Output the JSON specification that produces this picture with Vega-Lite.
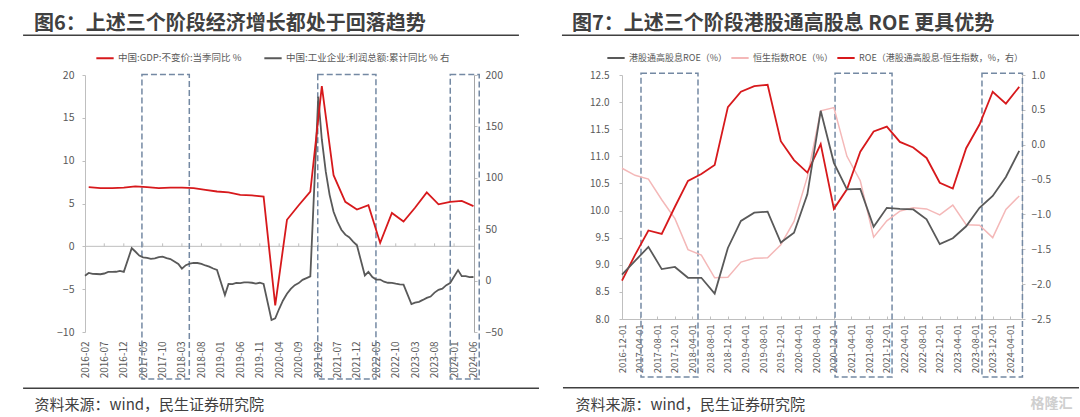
{
  "$schema": "https://vega.github.io/schema/vega-lite/v6.json",
  "background": "white",
  "padding": {"left": 22, "top": 13, "right": 0, "bottom": 0},
  "spacing": 21,
  "config": {
    "view": {"stroke": null},
    "font": "Noto Sans CJK SC",
    "axis": {"labelColor": "#595959", "labelFont": "Noto Sans CJK SC", "domainColor": "#bfbfbf", "tickColor": "#bfbfbf", "grid": false, "titleFontWeight": "normal", "labelFlush": false, "labelOverlap": false},
    "legend": {"labelFont": "Noto Sans CJK SC", "labelLimit": 400},
    "title": {"font": "Noto Sans CJK SC"}
  },
  "resolve": {"scale": {"color": "independent", "x": "independent", "y": "independent"}},
  "datasets": {
    "gdp": [
      {"d": "2016/03/01", "v": 6.9}, {"d": "2016/06/01", "v": 6.8}, {"d": "2016/09/01", "v": 6.8}, {"d": "2016/12/01", "v": 6.85},
      {"d": "2017/03/01", "v": 7.0}, {"d": "2017/06/01", "v": 6.9}, {"d": "2017/09/01", "v": 6.8}, {"d": "2017/12/01", "v": 6.85},
      {"d": "2018/03/01", "v": 6.85}, {"d": "2018/06/01", "v": 6.8}, {"d": "2018/09/01", "v": 6.6}, {"d": "2018/12/01", "v": 6.4},
      {"d": "2019/03/01", "v": 6.3}, {"d": "2019/06/01", "v": 6.0}, {"d": "2019/09/01", "v": 5.95}, {"d": "2019/12/01", "v": 5.8},
      {"d": "2020/03/01", "v": -6.9}, {"d": "2020/06/01", "v": 3.1}, {"d": "2020/09/01", "v": 4.8}, {"d": "2020/12/01", "v": 6.4},
      {"d": "2021/03/01", "v": 18.7}, {"d": "2021/06/01", "v": 8.3}, {"d": "2021/09/01", "v": 5.2}, {"d": "2021/12/01", "v": 4.3},
      {"d": "2022/03/01", "v": 4.8}, {"d": "2022/06/01", "v": 0.4}, {"d": "2022/09/01", "v": 3.9}, {"d": "2022/12/01", "v": 2.9},
      {"d": "2023/03/01", "v": 4.5}, {"d": "2023/06/01", "v": 6.3}, {"d": "2023/09/01", "v": 4.9}, {"d": "2023/12/01", "v": 5.2},
      {"d": "2024/03/01", "v": 5.3}, {"d": "2024/06/01", "v": 4.7}
    ],
    "profit": [
      {"d": "2016/02/01", "v": 4.8}, {"d": "2016/03/01", "v": 7.4}, {"d": "2016/04/01", "v": 6.5}, {"d": "2016/05/01", "v": 6.4}, {"d": "2016/06/01", "v": 6.2}, {"d": "2016/07/01", "v": 6.9}, {"d": "2016/08/01", "v": 8.4}, {"d": "2016/09/01", "v": 8.4}, {"d": "2016/10/01", "v": 8.6}, {"d": "2016/11/01", "v": 9.4}, {"d": "2016/12/01", "v": 8.5},
      {"d": "2017/02/01", "v": 31.5}, {"d": "2017/03/01", "v": 28.3}, {"d": "2017/04/01", "v": 24.4}, {"d": "2017/05/01", "v": 22.7}, {"d": "2017/06/01", "v": 22.0}, {"d": "2017/07/01", "v": 21.1}, {"d": "2017/08/01", "v": 21.6}, {"d": "2017/09/01", "v": 22.8}, {"d": "2017/10/01", "v": 23.3}, {"d": "2017/11/01", "v": 21.9}, {"d": "2017/12/01", "v": 21.0},
      {"d": "2018/02/01", "v": 16.1}, {"d": "2018/03/01", "v": 11.6}, {"d": "2018/04/01", "v": 15.0}, {"d": "2018/05/01", "v": 16.5}, {"d": "2018/06/01", "v": 17.2}, {"d": "2018/07/01", "v": 17.1}, {"d": "2018/08/01", "v": 16.2}, {"d": "2018/09/01", "v": 14.7}, {"d": "2018/10/01", "v": 13.6}, {"d": "2018/11/01", "v": 11.8}, {"d": "2018/12/01", "v": 10.3},
      {"d": "2019/02/01", "v": -14.0}, {"d": "2019/03/01", "v": -3.3}, {"d": "2019/04/01", "v": -3.4}, {"d": "2019/05/01", "v": -2.3}, {"d": "2019/06/01", "v": -2.4}, {"d": "2019/07/01", "v": -1.7}, {"d": "2019/08/01", "v": -1.7}, {"d": "2019/09/01", "v": -2.1}, {"d": "2019/10/01", "v": -2.9}, {"d": "2019/11/01", "v": -2.1}, {"d": "2019/12/01", "v": -3.3},
      {"d": "2020/02/01", "v": -38.3}, {"d": "2020/03/01", "v": -36.7}, {"d": "2020/04/01", "v": -27.4}, {"d": "2020/05/01", "v": -19.3}, {"d": "2020/06/01", "v": -12.8}, {"d": "2020/07/01", "v": -8.1}, {"d": "2020/08/01", "v": -4.4}, {"d": "2020/09/01", "v": -2.4}, {"d": "2020/10/01", "v": 0.7}, {"d": "2020/11/01", "v": 2.4}, {"d": "2020/12/01", "v": 4.1},
      {"d": "2021/02/01", "v": 178.9}, {"d": "2021/03/01", "v": 137.3}, {"d": "2021/04/01", "v": 106.0}, {"d": "2021/05/01", "v": 83.4}, {"d": "2021/06/01", "v": 66.9}, {"d": "2021/07/01", "v": 57.3}, {"d": "2021/08/01", "v": 49.5}, {"d": "2021/09/01", "v": 44.7}, {"d": "2021/10/01", "v": 42.2}, {"d": "2021/11/01", "v": 38.0}, {"d": "2021/12/01", "v": 34.3},
      {"d": "2022/02/01", "v": 5.0}, {"d": "2022/03/01", "v": 8.5}, {"d": "2022/04/01", "v": 3.5}, {"d": "2022/05/01", "v": 1.0}, {"d": "2022/06/01", "v": 1.0}, {"d": "2022/07/01", "v": -1.1}, {"d": "2022/08/01", "v": -2.1}, {"d": "2022/09/01", "v": -2.3}, {"d": "2022/10/01", "v": -3.0}, {"d": "2022/11/01", "v": -3.6}, {"d": "2022/12/01", "v": -4.0},
      {"d": "2023/02/01", "v": -22.9}, {"d": "2023/03/01", "v": -21.4}, {"d": "2023/04/01", "v": -20.6}, {"d": "2023/05/01", "v": -18.8}, {"d": "2023/06/01", "v": -16.8}, {"d": "2023/07/01", "v": -15.5}, {"d": "2023/08/01", "v": -11.7}, {"d": "2023/09/01", "v": -9.0}, {"d": "2023/10/01", "v": -7.8}, {"d": "2023/11/01", "v": -4.4}, {"d": "2023/12/01", "v": -2.3},
      {"d": "2024/02/01", "v": 10.2}, {"d": "2024/03/01", "v": 4.3}, {"d": "2024/04/01", "v": 4.3}, {"d": "2024/05/01", "v": 3.4}, {"d": "2024/06/01", "v": 3.5}
    ],
    "ticksL": [
      {"d": "2016/07/01"}, {"d": "2016/12/01"}, {"d": "2017/05/01"}, {"d": "2017/10/01"}, {"d": "2018/03/01"}, {"d": "2018/08/01"}, {"d": "2019/01/01"}, {"d": "2019/06/01"}, {"d": "2019/11/01"}, {"d": "2020/04/01"}, {"d": "2020/09/01"}, {"d": "2021/02/01"}, {"d": "2021/07/01"}, {"d": "2021/12/01"}, {"d": "2022/05/01"}, {"d": "2022/10/01"}, {"d": "2023/03/01"}, {"d": "2023/08/01"}, {"d": "2024/01/01"}
    ],
    "rectL": [
      {"s": "2017/04/22", "e": "2018/04/28"},
      {"s": "2021/01/28", "e": "2022/04/29"},
      {"s": "2023/12/02", "e": "2024/07/16"}
    ],
    "rectR": [
      {"s": "2017/04/11", "e": "2018/05/09"},
      {"s": "2020/12/09", "e": "2022/01/06"},
      {"s": "2023/09/18", "e": "2024/06/23"}
    ],
    "hk": [
      {"d": "2016/12/01", "hd": 8.82, "hsi": 10.78, "diff": -1.95},
      {"d": "2017/03/01", "hd": 9.07, "hsi": 10.65, "diff": -1.58},
      {"d": "2017/06/01", "hd": 9.33, "hsi": 10.58, "diff": -1.23},
      {"d": "2017/09/01", "hd": 8.92, "hsi": 10.2, "diff": -1.28},
      {"d": "2017/12/01", "hd": 8.96, "hsi": 9.85, "diff": -0.89},
      {"d": "2018/03/01", "hd": 8.76, "hsi": 9.28, "diff": -0.52},
      {"d": "2018/06/01", "hd": 8.76, "hsi": 9.18, "diff": -0.42},
      {"d": "2018/09/01", "hd": 8.47, "hsi": 8.76, "diff": -0.29},
      {"d": "2018/12/01", "hd": 9.31, "hsi": 8.77, "diff": 0.54},
      {"d": "2019/03/01", "hd": 9.81, "hsi": 9.05, "diff": 0.76},
      {"d": "2019/06/01", "hd": 9.96, "hsi": 9.12, "diff": 0.84},
      {"d": "2019/09/01", "hd": 9.98, "hsi": 9.13, "diff": 0.86},
      {"d": "2019/12/01", "hd": 9.41, "hsi": 9.37, "diff": 0.05},
      {"d": "2020/03/01", "hd": 9.59, "hsi": 9.8, "diff": -0.22},
      {"d": "2020/06/01", "hd": 10.3, "hsi": 10.62, "diff": -0.4},
      {"d": "2020/09/01", "hd": 11.84, "hsi": 11.84, "diff": 0.01},
      {"d": "2020/12/01", "hd": 10.88, "hsi": 11.9, "diff": -0.92},
      {"d": "2021/03/01", "hd": 10.39, "hsi": 11.0, "diff": -0.64},
      {"d": "2021/06/01", "hd": 10.4, "hsi": 10.55, "diff": -0.1},
      {"d": "2021/09/01", "hd": 9.7, "hsi": 9.51, "diff": 0.19},
      {"d": "2021/12/01", "hd": 10.05, "hsi": 9.81, "diff": 0.26},
      {"d": "2022/03/01", "hd": 10.03, "hsi": 9.99, "diff": 0.04},
      {"d": "2022/06/01", "hd": 10.02, "hsi": 10.05, "diff": -0.04},
      {"d": "2022/09/01", "hd": 9.84, "hsi": 10.03, "diff": -0.19},
      {"d": "2022/12/01", "hd": 9.38, "hsi": 9.92, "diff": -0.545},
      {"d": "2023/03/01", "hd": 9.49, "hsi": 10.1, "diff": -0.63},
      {"d": "2023/06/01", "hd": 9.71, "hsi": 9.74, "diff": -0.05},
      {"d": "2023/09/01", "hd": 10.05, "hsi": 9.73, "diff": 0.29},
      {"d": "2023/12/01", "hd": 10.27, "hsi": 9.5, "diff": 0.76},
      {"d": "2024/03/01", "hd": 10.62, "hsi": 10.02, "diff": 0.59},
      {"d": "2024/06/01", "hd": 11.1, "hsi": 10.27, "diff": 0.83}
    ]
  },
  "hconcat": [
    {
      "width": 389,
      "height": 257,
      "title": {"text": "图6：上述三个阶段经济增长都处于回落趋势", "anchor": "start", "frame": "group", "dx": -51, "offset": 1, "fontSize": 20, "fontWeight": "bold", "color": "#404040"},
      "resolve": {"scale": {"x": "independent", "y": "independent"}, "axis": {"x": "independent", "y": "independent"}},
      "layer": [
        {
          "data": {"values": [{}]},
          "mark": {"type": "rule", "color": "#bfbfbf", "strokeWidth": 1},
          "encoding": {"y": {"datum": 0, "type": "quantitative", "scale": {"domain": [-10, 20], "nice": false, "zero": false}, "axis": null}}
        },
        {
          "data": {"name": "ticksL"},
          "mark": {"type": "rule", "color": "#bfbfbf", "strokeWidth": 1},
          "encoding": {
            "x": {"field": "d", "type": "temporal", "scale": {"domain": [{"year": 2016, "month": 2, "date": 1}, {"year": 2024, "month": 6, "date": 5}]}, "axis": null},
            "y": {"datum": 0, "type": "quantitative", "scale": {"domain": [-10, 20], "nice": false, "zero": false}, "axis": null},
            "y2": {"datum": 0.35}
          }
        },
        {
          "data": {"name": "rectL"},
          "mark": {"type": "rect", "fill": "transparent", "stroke": "#7489a3", "strokeWidth": 1.5, "strokeDash": [6, 3]},
          "encoding": {
            "x": {"field": "s", "type": "temporal", "scale": {"domain": [{"year": 2016, "month": 2, "date": 1}, {"year": 2024, "month": 6, "date": 5}]}, "axis": null},
            "x2": {"field": "e"},
            "y": {"datum": 20.06, "type": "quantitative", "scale": {"domain": [-10, 20], "nice": false, "zero": false}, "axis": null},
            "y2": {"datum": -15.5}
          }
        },
        {
          "data": {"values": [{}]},
          "mark": {"type": "rule", "color": "#404040", "strokeWidth": 1.5},
          "encoding": {
            "x": {"datum": {"year": 2014, "month": 10, "date": 4}, "type": "temporal", "scale": {"domain": [{"year": 2016, "month": 2, "date": 1}, {"year": 2024, "month": 6, "date": 5}]}, "axis": null},
            "x2": {"datum": {"year": 2025, "month": 5, "date": 23}},
            "y": {"datum": 24.64, "type": "quantitative", "scale": {"domain": [-10, 20], "nice": false, "zero": false}, "axis": null}
          }
        },
        {
          "data": {"values": [{}]},
          "mark": {"type": "rule", "color": "#404040", "strokeWidth": 1.5},
          "encoding": {
            "x": {"datum": {"year": 2014, "month": 10, "date": 4}, "type": "temporal", "scale": {"domain": [{"year": 2016, "month": 2, "date": 1}, {"year": 2024, "month": 6, "date": 5}]}, "axis": null},
            "x2": {"datum": {"year": 2025, "month": 10, "date": 27}},
            "y": {"datum": -16.57, "type": "quantitative", "scale": {"domain": [-10, 20], "nice": false, "zero": false}, "axis": null}
          }
        },
        {
          "data": {"name": "profit"},
          "mark": {"type": "line", "strokeWidth": 1.8},
          "encoding": {
            "x": {"field": "d", "type": "temporal", "scale": {"domain": [{"year": 2016, "month": 2, "date": 1}, {"year": 2024, "month": 6, "date": 5}]}, "axis": null},
            "y": {
              "field": "v", "type": "quantitative",
              "scale": {"domain": [-50, 200], "nice": false, "zero": false},
              "axis": {"orient": "right", "values": [-50, 0, 50, 100, 150, 200], "tickSize": 3, "labelPadding": 8, "labelFontSize": 10.5, "domainColor": "#a6a6a6", "title": null}
            },
            "color": {"datum": "中国:工业企业:利润总额:累计同比 % 右", "type": "nominal"}
          }
        },
        {
          "data": {"name": "gdp"},
          "mark": {"type": "line", "strokeWidth": 1.8},
          "encoding": {
            "x": {
              "field": "d", "type": "temporal",
              "scale": {"domain": [{"year": 2016, "month": 2, "date": 1}, {"year": 2024, "month": 6, "date": 5}]},
              "axis": {
                "orient": "bottom",
                "values": [
                  {"year": 2016, "month": 2, "date": 1}, {"year": 2016, "month": 7, "date": 1}, {"year": 2016, "month": 12, "date": 1},
                  {"year": 2017, "month": 5, "date": 1}, {"year": 2017, "month": 10, "date": 1}, {"year": 2018, "month": 3, "date": 1},
                  {"year": 2018, "month": 8, "date": 1}, {"year": 2019, "month": 1, "date": 1}, {"year": 2019, "month": 6, "date": 1},
                  {"year": 2019, "month": 11, "date": 1}, {"year": 2020, "month": 4, "date": 1}, {"year": 2020, "month": 9, "date": 1},
                  {"year": 2021, "month": 2, "date": 1}, {"year": 2021, "month": 7, "date": 1}, {"year": 2021, "month": 12, "date": 1},
                  {"year": 2022, "month": 5, "date": 1}, {"year": 2022, "month": 10, "date": 1}, {"year": 2023, "month": 3, "date": 1},
                  {"year": 2023, "month": 8, "date": 1}, {"year": 2024, "month": 1, "date": 1}, {"year": 2024, "month": 6, "date": 1}
                ],
                "format": "%Y-%m", "labelAngle": -90, "labelFontSize": 10, "labelPadding": 9,
                "ticks": false, "domain": false,
                "title": "资料来源：wind，民生证券研究院", "titleFontSize": 15, "titleColor": "#404040",
                "titleX": -51, "titleY": 72, "titleAlign": "left", "titleBaseline": "middle", "titleAngle": 0
              }
            },
            "y": {
              "field": "v", "type": "quantitative",
              "scale": {"domain": [-10, 20], "nice": false, "zero": false},
              "axis": {"orient": "left", "values": [-10, -5, 0, 5, 10, 15, 20], "tickSize": 3, "labelPadding": 8, "labelFontSize": 10.5, "title": null}
            },
            "color": {
              "datum": "中国:GDP:不变价:当季同比 %", "type": "nominal",
              "scale": {"domain": ["中国:GDP:不变价:当季同比 %", "中国:工业企业:利润总额:累计同比 % 右"], "range": ["#d7191c", "#595959"]},
              "legend": {"orient": "none", "legendX": 10, "legendY": -27, "direction": "horizontal", "title": null, "symbolType": "stroke", "symbolStrokeWidth": 2, "symbolSize": 300, "labelFontSize": 9.5, "labelColor": "#595959", "columnPadding": 18, "labelOffset": 3}
            }
          }
        }
      ]
    },
    {
      "width": 400,
      "height": 244,
      "title": {"text": "图7：上述三个阶段港股通高股息 ROE 更具优势", "anchor": "start", "frame": "group", "dx": -50, "offset": 1, "fontSize": 20, "fontWeight": "bold", "color": "#404040"},
      "resolve": {"scale": {"x": "independent", "y": "independent"}, "axis": {"x": "independent", "y": "independent"}},
      "layer": [
        {
          "data": {"name": "rectR"},
          "mark": {"type": "rect", "fill": "transparent", "stroke": "#7489a3", "strokeWidth": 1.5, "strokeDash": [6, 3]},
          "encoding": {
            "x": {"field": "s", "type": "temporal", "scale": {"domain": [{"year": 2016, "month": 12, "date": 1}, {"year": 2024, "month": 6, "date": 20}]}, "axis": null},
            "x2": {"field": "e"},
            "y": {"datum": 12.53, "type": "quantitative", "scale": {"domain": [8, 12.5], "nice": false, "zero": false}, "axis": null},
            "y2": {"datum": 6.93}
          }
        },
        {
          "data": {"values": [{}]},
          "mark": {"type": "rule", "color": "#404040", "strokeWidth": 1.5},
          "encoding": {
            "x": {"datum": {"year": 2015, "month": 10, "date": 14}, "type": "temporal", "scale": {"domain": [{"year": 2016, "month": 12, "date": 1}, {"year": 2024, "month": 6, "date": 20}]}, "axis": null},
            "x2": {"datum": {"year": 2025, "month": 7, "date": 18}},
            "y": {"datum": 13.232, "type": "quantitative", "scale": {"domain": [8, 12.5], "nice": false, "zero": false}, "axis": null}
          }
        },
        {
          "data": {"values": [{}]},
          "mark": {"type": "rule", "color": "#404040", "strokeWidth": 1.5},
          "encoding": {
            "x": {"datum": {"year": 2015, "month": 10, "date": 21}, "type": "temporal", "scale": {"domain": [{"year": 2016, "month": 12, "date": 1}, {"year": 2024, "month": 6, "date": 20}]}, "axis": null},
            "x2": {"datum": {"year": 2025, "month": 7, "date": 18}},
            "y": {"datum": 6.731, "type": "quantitative", "scale": {"domain": [8, 12.5], "nice": false, "zero": false}, "axis": null}
          }
        },
        {
          "data": {"values": [{}]},
          "mark": {"type": "text", "text": "格隆汇", "fontSize": 14, "fontWeight": "bold", "color": "#cfcfcf"},
          "encoding": {
            "x": {"datum": {"year": 2025, "month": 1, "date": 10}, "type": "temporal", "scale": {"domain": [{"year": 2016, "month": 12, "date": 1}, {"year": 2024, "month": 6, "date": 20}]}, "axis": null},
            "y": {"datum": 6.43, "type": "quantitative", "scale": {"domain": [8, 12.5], "nice": false, "zero": false}, "axis": null}
          }
        },
        {
          "data": {"name": "hk"},
          "mark": {"type": "line", "strokeWidth": 1.5},
          "encoding": {
            "x": {"field": "d", "type": "temporal", "scale": {"domain": [{"year": 2016, "month": 12, "date": 1}, {"year": 2024, "month": 6, "date": 20}]}, "axis": null},
            "y": {"field": "hsi", "type": "quantitative", "scale": {"domain": [8, 12.5], "nice": false, "zero": false}, "axis": null},
            "color": {"datum": "恒生指数ROE（%）", "type": "nominal"}
          }
        },
        {
          "data": {"name": "hk"},
          "mark": {"type": "line", "strokeWidth": 1.8},
          "encoding": {
            "x": {"field": "d", "type": "temporal", "scale": {"domain": [{"year": 2016, "month": 12, "date": 1}, {"year": 2024, "month": 6, "date": 20}]}, "axis": null},
            "y": {
              "field": "diff", "type": "quantitative",
              "scale": {"domain": [-2.5, 1], "nice": false, "zero": false},
              "axis": {"orient": "right", "values": [-2.5, -2, -1.5, -1, -0.5, 0, 0.5, 1], "format": ".1f", "tickSize": 3, "labelPadding": 6, "labelFontSize": 10, "title": null}
            },
            "color": {"datum": "ROE（港股通高股息-恒生指数，%，右）", "type": "nominal"}
          }
        },
        {
          "data": {"name": "hk"},
          "mark": {"type": "line", "strokeWidth": 1.8},
          "encoding": {
            "x": {
              "field": "d", "type": "temporal",
              "scale": {"domain": [{"year": 2016, "month": 12, "date": 1}, {"year": 2024, "month": 6, "date": 20}]},
              "axis": {
                "orient": "bottom",
                "values": [
                  {"year": 2016, "month": 12, "date": 1}, {"year": 2017, "month": 4, "date": 1}, {"year": 2017, "month": 8, "date": 1},
                  {"year": 2017, "month": 12, "date": 1}, {"year": 2018, "month": 4, "date": 1}, {"year": 2018, "month": 8, "date": 1},
                  {"year": 2018, "month": 12, "date": 1}, {"year": 2019, "month": 4, "date": 1}, {"year": 2019, "month": 8, "date": 1},
                  {"year": 2019, "month": 12, "date": 1}, {"year": 2020, "month": 4, "date": 1}, {"year": 2020, "month": 8, "date": 1},
                  {"year": 2020, "month": 12, "date": 1}, {"year": 2021, "month": 4, "date": 1}, {"year": 2021, "month": 8, "date": 1},
                  {"year": 2021, "month": 12, "date": 1}, {"year": 2022, "month": 4, "date": 1}, {"year": 2022, "month": 8, "date": 1},
                  {"year": 2022, "month": 12, "date": 1}, {"year": 2023, "month": 4, "date": 1}, {"year": 2023, "month": 8, "date": 1},
                  {"year": 2023, "month": 12, "date": 1}, {"year": 2024, "month": 4, "date": 1}
                ],
                "format": "%Y-%m-%d", "labelAngle": -90, "labelFontSize": 9.5, "labelPadding": 8,
                "ticks": true, "tickSize": -3, "domain": true,
                "title": "资料来源：wind，民生证券研究院", "titleFontSize": 15, "titleColor": "#404040",
                "titleX": -47, "titleY": 85, "titleAlign": "left", "titleBaseline": "middle", "titleAngle": 0
              }
            },
            "y": {
              "field": "hd", "type": "quantitative",
              "scale": {"domain": [8, 12.5], "nice": false, "zero": false},
              "axis": {"orient": "left", "values": [8, 8.5, 9, 9.5, 10, 10.5, 11, 11.5, 12, 12.5], "format": ".1f", "tickSize": 3, "labelPadding": 10, "labelFontSize": 10, "title": null}
            },
            "color": {
              "datum": "港股通高股息ROE（%）", "type": "nominal",
              "scale": {"domain": ["港股通高股息ROE（%）", "恒生指数ROE（%）", "ROE（港股通高股息-恒生指数，%，右）"], "range": ["#595959", "#f4b8b8", "#d7191c"]},
              "legend": {"orient": "none", "legendX": -16, "legendY": -27, "direction": "horizontal", "title": null, "symbolType": "stroke", "symbolStrokeWidth": 2, "symbolSize": 300, "labelFontSize": 9, "labelColor": "#595959", "columnPadding": 0, "labelOffset": 3}
            }
          }
        }
      ]
    }
  ]
}
